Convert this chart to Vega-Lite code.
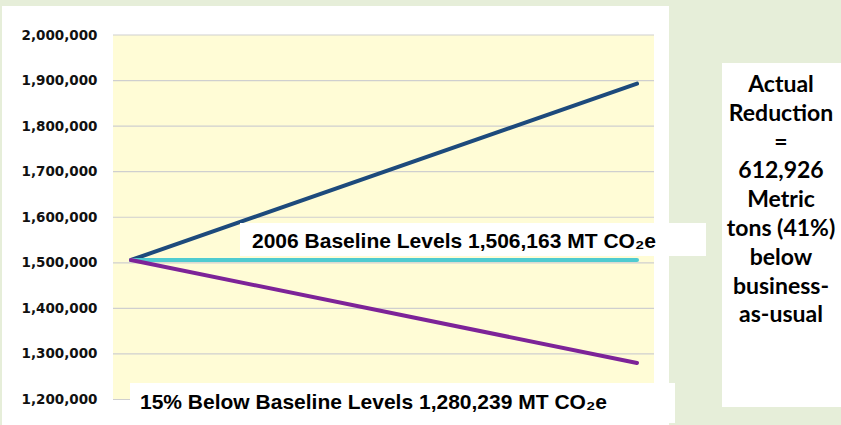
{
  "$schema": "https://vega.github.io/schema/vega-lite/v6.json",
  "width": 667,
  "height": 419,
  "autosize": {"type": "none"},
  "padding": {"left": 2, "top": 6, "right": 172, "bottom": 0},
  "background": "#e6eed9",
  "config": {
    "view": {"fill": "white", "stroke": null},
    "axisY": {
      "title": null, "offset": -111, "domain": false, "ticks": false, "grid": false,
      "values": [1200000, 1300000, 1400000, 1500000, 1600000, 1700000, 1800000, 1900000, 2000000],
      "format": ",d", "labelPadding": 16, "labelFont": "DejaVu Sans", "labelFontWeight": "bold",
      "labelFontSize": 13.5, "labelColor": "#111111"
    }
  },
  "datasets": {
    "grid": [
      {"value": 1200000}, {"value": 1300000}, {"value": 1400000},
      {"value": 1500000}, {"value": 1600000}, {"value": 1700000},
      {"value": 1800000}, {"value": 1900000}, {"value": 2000000}
    ],
    "series": [
      {"series": "Business as usual", "year": 2006, "value": 1506163},
      {"series": "Business as usual", "year": 2020, "value": 1893165},
      {"series": "2006 Baseline", "year": 2006, "value": 1506163},
      {"series": "2006 Baseline", "year": 2020, "value": 1506163},
      {"series": "15% Below Baseline", "year": 2006, "value": 1506163},
      {"series": "15% Below Baseline", "year": 2020, "value": 1280239}
    ]
  },
  "layer": [
    {
      "data": {"values": [{}]},
      "mark": {"type": "rect", "color": "#fffcd6", "clip": false},
      "encoding": {
        "x": {"datum": 2005.502, "type": "quantitative", "scale": {"domain": [2002.4308, 2020.8854], "nice": false, "zero": false}, "axis": null},
        "x2": {"datum": 2020.47},
        "y": {"datum": 1200000, "type": "quantitative", "scale": {"domain": [1144032, 2063649], "nice": false, "zero": false}},
        "y2": {"datum": 2000000}
      }
    },
    {
      "data": {"name": "grid"},
      "mark": {"type": "rule", "color": "#cfcfcf", "strokeWidth": 1.2, "clip": false},
      "encoding": {
        "x": {"datum": 2005.502, "type": "quantitative", "scale": {"domain": [2002.4308, 2020.8854], "nice": false, "zero": false}, "axis": null},
        "x2": {"datum": 2020.47},
        "y": {"field": "value", "type": "quantitative", "scale": {"domain": [1144032, 2063649], "nice": false, "zero": false}}
      }
    },
    {
      "data": {"name": "series"},
      "mark": {"type": "line", "strokeWidth": 4, "strokeCap": "round", "clip": false},
      "encoding": {
        "x": {"field": "year", "type": "quantitative", "scale": {"domain": [2002.4308, 2020.8854], "nice": false, "zero": false}, "axis": null},
        "y": {"field": "value", "type": "quantitative", "scale": {"domain": [1144032, 2063649], "nice": false, "zero": false}},
        "color": {
          "field": "series", "type": "nominal",
          "scale": {"domain": ["Business as usual", "2006 Baseline", "15% Below Baseline"], "range": ["#1d4a7c", "#4fcbd0", "#7d2398"]},
          "legend": null
        },
        "order": {"field": "year"}
      }
    },
    {
      "data": {"values": [{}]},
      "mark": {"type": "rect", "color": "white", "clip": false},
      "encoding": {
        "x": {"datum": 2009.016, "type": "quantitative", "scale": {"domain": [2002.4308, 2020.8854], "nice": false, "zero": false}, "axis": null},
        "x2": {"datum": 2021.909},
        "y": {"datum": 1514951, "type": "quantitative", "scale": {"domain": [1144032, 2063649], "nice": false, "zero": false}},
        "y2": {"datum": 1587379}
      }
    },
    {
      "data": {"values": [{"label": "2006 Baseline Levels 1,506,163 MT CO₂e"}]},
      "mark": {"type": "text", "align": "left", "baseline": "middle", "font": "Liberation Sans", "fontWeight": "bold", "fontSize": 21, "color": "#000000", "clip": false},
      "encoding": {
        "x": {"datum": 2009.348, "type": "quantitative", "scale": {"domain": [2002.4308, 2020.8854], "nice": false, "zero": false}, "axis": null},
        "y": {"datum": 1545682, "type": "quantitative", "scale": {"domain": [1144032, 2063649], "nice": false, "zero": false}},
        "text": {"field": "label"}
      }
    },
    {
      "data": {"values": [{}]},
      "mark": {"type": "rect", "color": "white", "clip": false},
      "encoding": {
        "x": {"datum": 2005.972, "type": "quantitative", "scale": {"domain": [2002.4308, 2020.8854], "nice": false, "zero": false}, "axis": null},
        "x2": {"datum": 2021.051},
        "y": {"datum": 1148421, "type": "quantitative", "scale": {"domain": [1144032, 2063649], "nice": false, "zero": false}},
        "y2": {"datum": 1236213}
      }
    },
    {
      "data": {"values": [{"label": "15% Below Baseline Levels 1,280,239 MT CO₂e"}]},
      "mark": {"type": "text", "align": "left", "baseline": "middle", "font": "Liberation Sans", "fontWeight": "bold", "fontSize": 21, "color": "#000000", "clip": false},
      "encoding": {
        "x": {"datum": 2006.249, "type": "quantitative", "scale": {"domain": [2002.4308, 2020.8854], "nice": false, "zero": false}, "axis": null},
        "y": {"datum": 1192317, "type": "quantitative", "scale": {"domain": [1144032, 2063649], "nice": false, "zero": false}},
        "text": {"field": "label"}
      }
    },
    {
      "data": {"values": [{}]},
      "mark": {"type": "rect", "color": "white", "clip": false},
      "encoding": {
        "x": {"datum": 2022.352, "type": "quantitative", "scale": {"domain": [2002.4308, 2020.8854], "nice": false, "zero": false}, "axis": null},
        "x2": {"datum": 2025.644},
        "y": {"datum": 1183538, "type": "quantitative", "scale": {"domain": [1144032, 2063649], "nice": false, "zero": false}},
        "y2": {"datum": 1938547}
      }
    },
    {
      "data": {"values": [{"label": ["Actual", "Reduction", "=", "612,926", "Metric", "tons (41%)", "below", "business-", "as-usual"]}]},
      "mark": {"type": "text", "align": "center", "baseline": "middle", "font": "Lato", "fontWeight": "bold", "fontSize": 23, "lineHeight": 28.8, "color": "#000000", "clip": false},
      "encoding": {
        "x": {"datum": 2023.984, "type": "quantitative", "scale": {"domain": [2002.4308, 2020.8854], "nice": false, "zero": false}, "axis": null},
        "y": {"datum": 1890260, "type": "quantitative", "scale": {"domain": [1144032, 2063649], "nice": false, "zero": false}},
        "text": {"field": "label"}
      }
    }
  ]
}
